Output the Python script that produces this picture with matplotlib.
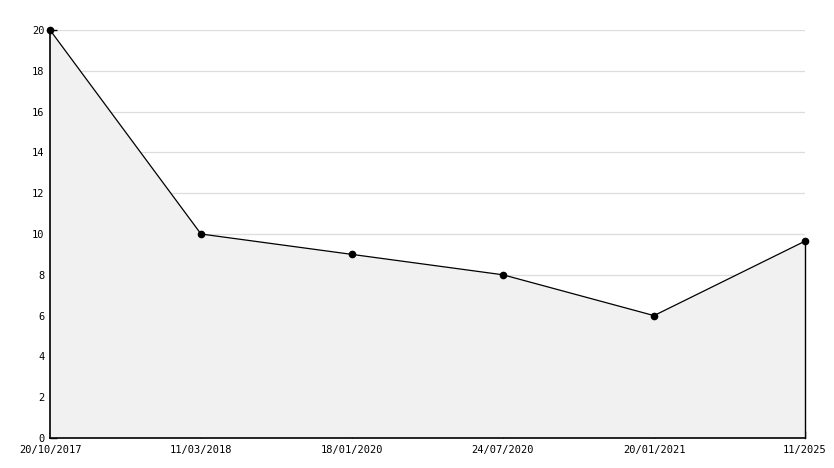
import matplotlib
matplotlib.use("Agg")
import matplotlib.pyplot as plt
import numpy as np

labels = ["20/10/2017", "11/03/2018", "18/01/2020", "24/07/2020", "20/01/2021", "11/2025"]
values = [20, 10, 9, 8, 6, 9.65]

W, H = 834, 468
fig = plt.figure(figsize=(W / 100, H / 100), dpi=100)
ax = fig.add_axes([50 / W, 30 / H, (805 - 50) / W, (438 - 30) / H])

x = np.arange(len(values))
ax.fill_between(x, values, 0, facecolor="#f1f1f1", edgecolor="none", zorder=1)
ax.plot(x, values, color="black", lw=0.9, marker="o", ms=4.5, zorder=3, clip_on=False)
ax.plot([x[-1], x[-1]], [0, values[-1]], color="black", lw=1, zorder=3, clip_on=False)

ax.set_xlim(0, len(values) - 1)
ax.set_ylim(0, 20)
ax.set_yticks(np.arange(0, 21, 2))
ax.set_yticks(np.arange(1, 20, 2), minor=True)
ax.set_xticks(x)
ax.set_xticklabels(labels)
ax.yaxis.grid(True, color="#dddddd", lw=0.9, zorder=0)
ax.set_axisbelow(True)

for s in ["top", "right"]:
    ax.spines[s].set_visible(False)
for s in ["left", "bottom"]:
    ax.spines[s].set_linewidth(1.2)

ax.tick_params(axis="both", direction="in", length=5, width=1, labelsize=7.5)
ax.tick_params(axis="x", pad=5)
ax.tick_params(axis="y", pad=4)
ax.tick_params(axis="y", which="minor", direction="in", length=4, width=1)
for t in ax.get_xticklabels() + ax.get_yticklabels():
    t.set_family("DejaVu Sans Mono")

fig.savefig("out.png", dpi=100)
